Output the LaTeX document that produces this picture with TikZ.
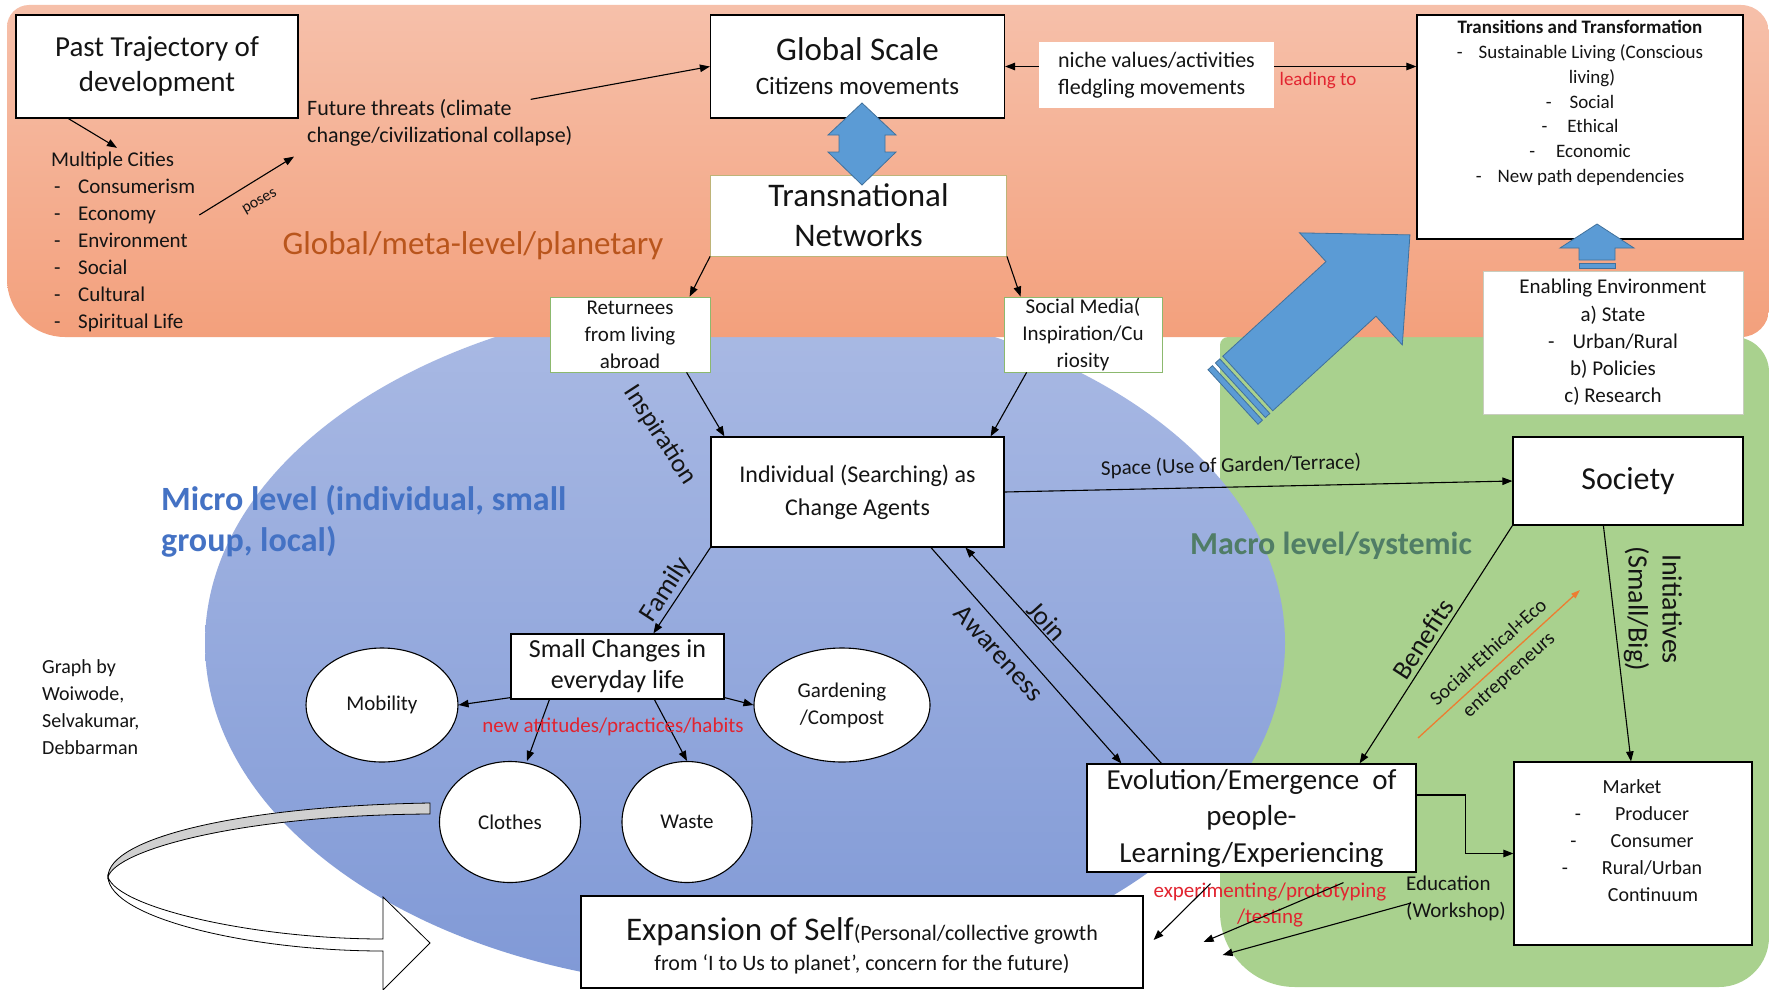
\documentclass[tikz,border=0pt]{standalone}
\usepackage{fontspec}
\setmainfont{Carlito}
\usetikzlibrary{arrows.meta,shapes.geometric,calc}
\newcommand\myfs[2]{\fontsize{#1}{#2}\selectfont}
\newcommand\lstdash{\makebox[27pt][l]{\hspace*{3pt}-}}
\definecolor{txt}{RGB}{20,20,20}
\definecolor{orgtop}{RGB}{246,192,170}
\definecolor{orgbot}{RGB}{243,160,124}
\definecolor{grn}{RGB}{169,209,142}
\definecolor{blutop}{RGB}{170,186,228}
\definecolor{blubot}{RGB}{128,153,214}
\definecolor{arrblue}{RGB}{91,155,213}
\definecolor{arrbluedk}{RGB}{65,113,156}
\definecolor{redtxt}{RGB}{226,36,48}
\definecolor{orgline}{RGB}{237,125,49}
\definecolor{microblue}{RGB}{68,114,196}
\definecolor{macrogrn}{RGB}{80,125,102}
\definecolor{globorg}{RGB}{185,85,28}
\definecolor{olivebord}{RGB}{190,180,120}
\definecolor{grnbord}{RGB}{140,185,110}
\definecolor{lightbord}{RGB}{200,205,190}
\definecolor{ribbon}{RGB}{208,208,208}
\begin{document}
\begin{tikzpicture}[x=1pt,y=-1pt,
  box/.style={draw=black,line width=1.2pt,fill=white,inner sep=0pt,align=center,text=txt},
  lbl/.style={inner sep=0pt,text=txt},
  arr/.style={draw=black,line width=1.1pt,-{Triangle[length=10pt,width=7.5pt]}},
  circ/.style={ellipse,draw=black,line width=1.1pt,fill=white,inner sep=0pt,text=txt,font=\myfs{21}{27}},
  blk/.style={fill=arrblue,draw=arrbluedk,line width=0.8pt}]
\useasboundingbox (0,0) rectangle (1769,990);
\fill[white] (0,0) rectangle (1769,990);
% green macro region
\fill[grn] (1228,337) -- (1734,337) .. controls (1753.3,337) and (1769,352.7) .. (1769,372) -- (1769,937) .. controls (1769,964.6) and (1746.6,987) .. (1719,987) -- (1295,987) .. controls (1253.6,987) and (1220,953.4) .. (1220,912) -- (1220,345) .. controls (1220,340.6) and (1223.6,337) .. (1228,337) -- cycle;
% blue micro ellipse
\shade[top color=blutop,bottom color=blubot] (745,643) ellipse [x radius=540pt,y radius=345pt];
% orange global region
\shade[top color=orgtop,bottom color=orgbot] (29,5) -- (1741,5) .. controls (1756.5,5) and (1769,17.5) .. (1769,33) -- (1769,309) .. controls (1769,324.5) and (1756.5,337) .. (1741,337) -- (65,337) .. controls (33,337) and (7,311) .. (7,279) -- (7,27) .. controls (7,14.9) and (16.9,5) .. (29,5) -- cycle;

% level titles
\node[lbl,font=\myfs{33}{40},text=globorg] (glob) at (473,246) {Global/meta-level/planetary};
\node[lbl,anchor=west,align=left,font=\bfseries\myfs{34}{41},text=microblue] (micro) at (161,521) {Micro level (individual, small\\group, local)};
\node[lbl,font=\bfseries\myfs{32}{38},text=macrogrn] (macro) at (1331,546) {Macro level/systemic};

% credit
\node[lbl,anchor=west,align=left,font=\myfs{20}{27}] (credit) at (42,707) {Graph by\\Woiwode,\\Selvakumar,\\Debbarman};

% curved ribbon arrow
\filldraw[fill=ribbon,draw=black,line width=0.8pt] (430,803) .. controls (240,806) and (108,838) .. (108,877) .. controls (116,850) and (240,815) .. (430,814) -- cycle;
\filldraw[fill=white,draw=black,line width=0.8pt] (108,877) .. controls (110,918) and (250,951) .. (383,951) -- (383,990) -- (430,943) -- (383,897) -- (383,939) .. controls (255,939) and (118,908) .. (108,877) -- cycle;

% top row
\node[box,minimum width=282pt,minimum height=103pt,font=\myfs{29}{35}] (past) at (157,66.5) {Past Trajectory of\\development};
\node[lbl,anchor=west,align=left,font=\myfs{21}{27}] (cities) at (51,242) {Multiple Cities\\\lstdash Consumerism\\\lstdash Economy\\\lstdash Environment\\\lstdash Social\\\lstdash Cultural\\\lstdash Spiritual Life};
\node[lbl,anchor=west,align=left,font=\myfs{22}{27}] (future) at (307,123) {Future threats (climate\\change/civilizational collapse)};
\node[lbl,rotate=30,font=\myfs{16}{19}] (poses) at (260,202) {poses};
\node[box,minimum width=294pt,minimum height=103pt,font=\myfs{25}{34}] (global) at (857.5,66.5) {{\myfs{33}{34}Global Scale}\\Citizens movements};
\node[fill=white,inner sep=0pt,minimum width=235pt,minimum height=66pt,align=left,font=\myfs{22}{27},text=txt] (niche) at (1156.5,75) {niche values/activities\\fledgling movements};
\node[lbl,text=redtxt,font=\myfs{19}{22}] (lead) at (1318,81) {leading to};
\node[box,minimum width=326pt,minimum height=224pt] (trans) at (1580,127) {};
\node[lbl,align=center,font=\myfs{19}{24.8}] (transtxt) at (1580,103) {\textbf{Transitions and Transformation}\\-\hspace*{16pt}Sustainable Living (Conscious\\\hspace*{24pt}living)\\-\hspace*{18pt}Social\\-\hspace*{20pt}Ethical\\-\hspace*{21pt}Economic\\-\hspace*{16pt}New path dependencies};
\node[box,draw=olivebord,line width=0.8pt,minimum width=296pt,minimum height=81pt,font=\myfs{33}{40}] (tn) at (858.5,215.5) {Transnational\\Networks};
\node[box,draw=grnbord,line width=0.8pt,minimum width=160pt,minimum height=75pt,font=\myfs{21}{27}] (ret) at (630,334.5) {Returnees\\from living\\abroad};
\node[box,draw=grnbord,line width=0.8pt,minimum width=158pt,minimum height=75pt,font=\myfs{21}{27}] (sm) at (1083,334.5) {Social Media(\\Inspiration/Cu\\riosity};
\node[box,draw=lightbord,line width=0.8pt,minimum width=260pt,minimum height=143pt,font=\myfs{21}{27.2}] (enab) at (1613,342.5) {Enabling Environment\\a) State\\-\hspace*{18pt}Urban/Rural\\b) Policies\\c) Research};

% middle
\node[box,minimum width=293pt,minimum height=110pt,font=\myfs{24}{33}] (indiv) at (857.5,492) {Individual (Searching) as\\Change Agents};
\node[box,minimum width=230pt,minimum height=88pt,font=\myfs{32}{38}] (soc) at (1628,481) {Society};
\node[box,minimum width=213pt,minimum height=65pt,font=\myfs{26}{31}] (small) at (617.5,666.5) {Small Changes in\\everyday life};
\node[circ,minimum width=152pt,minimum height=114pt] (mob) at (382,705) {Mobility};
\node[circ,minimum width=176pt,minimum height=114pt,align=center] (gard) at (842,705) {Gardening\\/Compost};
\node[circ,minimum width=141pt,minimum height=121pt] (clo) at (510,822) {Clothes};
\node[circ,minimum width=130pt,minimum height=121pt] (was) at (687,822) {Waste};
\node[box,minimum width=329pt,minimum height=108pt,font=\myfs{29}{36.5}] (evo) at (1251.5,818) {Evolution/Emergence\ \ of\\people-\\Learning/Experiencing};
\node[box,minimum width=238pt,minimum height=183pt] (mkt) at (1633,853.5) {};
\node[lbl,align=center,font=\myfs{20}{27}] (mkttxt) at (1632,840.5) {Market\\-\hspace*{34pt}Producer\\-\hspace*{34pt}Consumer\\-\hspace*{34pt}Rural/Urban\\\hspace*{42pt}Continuum};
\node[box,minimum width=562pt,minimum height=92pt] (exp) at (862,942) {};
\node[lbl,align=center,font=\myfs{22}{30}] (exptxt) at (862,946) {{\myfs{33}{30}Expansion of Self}(Personal/collective growth\\from ‘I to Us to planet’, concern for the future)};

% connectors top
\draw[arr] ([xshift=53pt]past.south west) -- ([xshift=66pt,yshift=4pt]cities.north west);
\draw[arr] ([xshift=4pt,yshift=27pt]cities.east) -- ([xshift=-13pt,yshift=-10pt]future.south west);
\draw[arr] ([xshift=-42pt,yshift=0pt]future.north east) -- (global.west);
\draw[arr] (niche.west |- global.east) -- (global.east);
\draw[arr] (niche.east |- global.east) -- (trans.west |- global.east);
\draw[arr] (tn.south west) -- ([xshift=140pt]ret.north west);
\draw[arr] (tn.south east) -- ([xshift=17pt]sm.north west);
\draw[arr] ([xshift=137pt]ret.south west) -- ([xshift=14pt]indiv.north west);
\draw[arr] ([xshift=23pt]sm.south west) -- ([xshift=-14pt]indiv.north east);
\node[lbl,rotate=-57,font=\myfs{26}{30}] (insp) at (660,435) {Inspiration};

% middle connectors
\draw[arr] (indiv.east) -- (soc.west);
\node[lbl,rotate=1.5,font=\myfs{21}{24}] (space) at (1231,466) {Space (Use of Garden/Terrace)};
\draw[arr] (indiv.south west) -- ([xshift=143pt]small.north west);
\node[lbl,rotate=57,font=\myfs{27}{30}] (fam) at (666,590) {Family};
\draw[arr] ([xshift=73.5pt]indiv.south) -- ([xshift=35pt]evo.north west);
\draw[arr] ([xshift=75pt]evo.north west) -- ([xshift=108pt]indiv.south);
\node[lbl,rotate=-48,font=\myfs{27}{30}] (aware) at (999,653) {Awareness};
\node[lbl,rotate=-48,font=\myfs{27}{30}] (join) at (1047,621) {Join};
\draw[arr] (soc.south west) -- ([xshift=-57pt]evo.north east);
\node[lbl,rotate=57,font=\myfs{27}{30}] (benef) at (1423,639) {Benefits};
\draw[arr] ([xshift=91pt]soc.south west) -- ([xshift=-2pt]mkt.north);
\node[lbl,rotate=-90,align=center,font=\myfs{28}{34}] (init) at (1653,609) {Initiatives\\(Small/Big)};
\coordinate (entA) at (1418,738);
\coordinate (entB) at (1580,590);
\draw[draw=orgline,line width=1.3pt,-{Triangle[length=9pt,width=6pt]}] (entA) -- (entB);
\node[lbl,rotate=42,align=center,font=\myfs{20}{30}] (entl) at (1499,664) {Social+Ethical+Eco\\entrepreneurs};

% small changes connectors
\draw[arr] ([yshift=2pt]small.south west) -- (mob.east);
\draw[arr] ([yshift=2pt]small.south east) -- (gard.west);
\draw[arr] ([xshift=39pt]small.south west) -- ([xshift=17pt]clo.north);
\draw[arr] ([xshift=144pt]small.south west) -- (was.north);
\node[lbl,text=redtxt,font=\myfs{21}{25}] (habits) at (613,727) {new attitudes/practices/habits};

% bottom connectors
\draw[arr] ([yshift=23pt]evo.east) -| ([xshift=-48pt]mkt.west) -- (mkt.west);
\node[lbl,text=redtxt,align=center,font=\myfs{21}{26.5}] (exper) at (1270,905) {experimenting/prototyping\\/testing};
\node[lbl,align=left,font=\myfs{21}{27}] (edu) at (1456,898) {Education\\(Workshop)};
\draw[arr] ([xshift=-41pt,yshift=-11pt]evo.south) -- ([xshift=10pt,yshift=2pt]exp.east);
\draw[arr] ([xshift=92pt,yshift=-10pt]evo.south) -- ([xshift=60pt]exp.east);
\draw[arr] ([xshift=5pt,yshift=-5pt]edu.west) -- ([xshift=79pt,yshift=-13pt]exp.east);

% block arrows
\filldraw[blk] (862,103) -- (896,135) -- (885,135) -- (885,152) -- (896,152) -- (862,185) -- (828,152) -- (839,152) -- (839,135) -- (828,135) -- cycle;
\filldraw[blk] (1597,224) -- (1634,248) -- (1615,248) -- (1615,260) -- (1579,260) -- (1579,248) -- (1560,248) -- cycle;
\filldraw[blk] (1579,263) rectangle (1615,268);
\begin{scope}[shift={(1233,397)},rotate=42.5]
\filldraw[blk] (20,-37) -- (160,-37) -- (160,-76) -- (240,0) -- (160,76) -- (160,37) -- (20,37) -- cycle;
\filldraw[blk] (0,-37) rectangle (6,37);
\filldraw[blk] (10,-37) rectangle (16,37);
\end{scope}
\end{tikzpicture}
\end{document}
